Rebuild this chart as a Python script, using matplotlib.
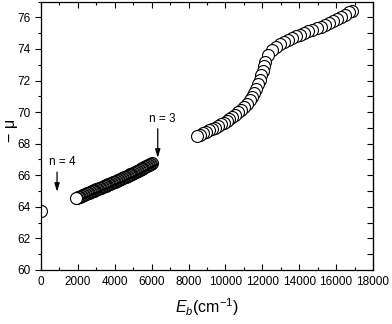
import numpy as np
import matplotlib.pyplot as plt
from matplotlib.ticker import MultipleLocator

plt.rcParams['font.family'] = ['Liberation Sans', 'DejaVu Sans']
plt.rcParams['mathtext.fontset'] = 'custom'
plt.rcParams['mathtext.it'] = 'Liberation Sans:italic'
plt.rcParams['mathtext.rm'] = 'Liberation Sans'

# ponto isolado em Eb = 0
x0 = [0]
y0 = [63.75]

# serie n = 4 (densa, passo de 50 cm-1)
x4 = list(range(1900, 6001, 50))
y4 = [64.55, 64.575, 64.60, 64.625, 64.65, 64.675, 64.70, 64.725, 64.75, 64.775,
      64.80, 64.825, 64.85, 64.875, 64.90, 64.925, 64.95, 64.975, 65.00, 65.025,
      65.05, 65.075, 65.10, 65.125, 65.15, 65.175, 65.20, 65.225, 65.25, 65.275,
      65.30, 65.325, 65.35, 65.375, 65.40, 65.425, 65.45, 65.475, 65.50, 65.525,
      65.55, 65.575, 65.60, 65.625, 65.65, 65.675, 65.70, 65.73, 65.76, 65.785,
      65.81, 65.835, 65.86, 65.89, 65.92, 65.945, 65.97, 66.00, 66.03, 66.055,
      66.08, 66.11, 66.14, 66.17, 66.20, 66.23, 66.26, 66.29, 66.32, 66.35,
      66.38, 66.41, 66.44, 66.47, 66.50, 66.535, 66.57, 66.60, 66.63, 66.665,
      66.70, 66.735, 66.77]

# serie n = 3
x3 = [8460, 8620, 8780, 8940, 9100, 9260, 9420, 9580, 9740, 9900,
      10060, 10220, 10380, 10540, 10700, 10860, 11020, 11170, 11310, 11440,
      11560, 11670, 11770, 11860, 11940, 12010, 12080, 12150, 12300, 12520,
      12740, 12960, 13180, 13400, 13620, 13840, 14060, 14280, 14500, 14720,
      14940, 15160, 15380, 15600, 15820, 16040, 16260, 16480, 16700, 16860]
y3 = [68.50, 68.58, 68.66, 68.75, 68.84, 68.93, 69.02, 69.12, 69.22, 69.33,
      69.44, 69.56, 69.69, 69.83, 69.98, 70.14, 70.32, 70.52, 70.74, 70.98,
      71.23, 71.49, 71.76, 72.04, 72.33, 72.62, 72.91, 73.20, 73.65, 73.95,
      74.15, 74.32, 74.45, 74.57, 74.69, 74.80, 74.91, 75.01, 75.11, 75.21,
      75.31, 75.42, 75.53, 75.64, 75.76, 75.88, 76.00, 76.15, 76.32, 76.42]

fig = plt.figure(figsize=(3.92, 3.24), dpi=100)
ax = fig.add_axes([0.1046, 0.1667, 0.8469, 0.8283])

estilo = dict(linestyle='none', marker='o', markersize=8.6,
              markerfacecolor='white', markeredgecolor='black',
              markeredgewidth=0.8)
ax.plot(x0, y0, **estilo)
ax.plot(x4[::-1], y4[::-1], **estilo)
ax.plot(x3[::-1], y3[::-1], **estilo)

seta = dict(arrowstyle='-|>,head_length=0.5,head_width=0.15',
            color='black', lw=0.9, shrinkA=0, shrinkB=0)
ax.annotate('', xy=(870, 64.95), xytext=(870, 66.2), arrowprops=seta)
ax.annotate('', xy=(6330, 67.1), xytext=(6330, 68.95), arrowprops=seta)
ax.text(1140, 66.86, 'n = 4', ha='center', va='center', fontsize=8.5)
ax.text(6560, 69.59, 'n = 3', ha='center', va='center', fontsize=8.5)

ax.set_xlim(0, 18000)
ax.set_ylim(60, 77)
ax.xaxis.set_major_locator(MultipleLocator(2000))
ax.xaxis.set_minor_locator(MultipleLocator(1000))
ax.yaxis.set_minor_locator(MultipleLocator(1))
ax.set_yticks(np.arange(60, 77, 2))

ax.tick_params(axis='both', which='major', labelsize=8.5, width=0.8)
ax.tick_params(axis='x', which='both', direction='in', top=True)
ax.tick_params(axis='y', which='both', direction='out', left=True)
ax.tick_params(which='major', length=4)
ax.tick_params(which='minor', length=2.5, width=0.8)
ax.tick_params(axis='x', which='major', pad=4)

# ticks do lado direito voltados para dentro
sec = ax.secondary_yaxis('right')
sec.yaxis.set_major_locator(MultipleLocator(1))
sec.tick_params(direction='in', length=4, width=0.8, labelright=False)

for s in ax.spines.values():
    s.set_linewidth(0.9)

ax.set_xlabel(r'$E_b$(cm$^{-1}$)', fontsize=11.5, labelpad=6)
ax.set_ylabel('− μ', fontsize=11.5)
ax.yaxis.set_label_coords(-0.07, 0.52)

fig.savefig('out.png', dpi=100)
